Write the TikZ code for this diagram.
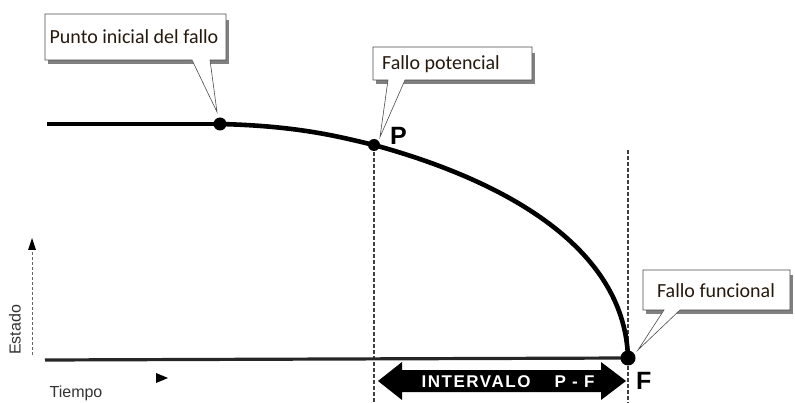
\documentclass[tikz,border=0pt]{standalone}
\usepackage{fontspec}
\setmainfont{Carlito}
\newfontfamily\hv{Liberation Sans}
\usetikzlibrary{arrows.meta}
\begin{document}
\begin{tikzpicture}[x=1pt,y=-1pt,
  curve/.style={line width=4.6pt,black},
  base/.style={line width=3.2pt,black!85},
  guide/.style={line width=2.2pt,dash pattern=on 4pt off 2pt,black!75},
  dotpt/.style={circle,fill=black,inner sep=0pt,minimum size=13pt},
  callout/.style={draw=black!70,line width=0.6pt,fill=white},
  shadow/.style={fill=black!50,draw=none},
  ctext/.style={font=\fontsize{20}{22}\selectfont,text=black!80!brown,inner sep=0pt},
  bigl/.style={font=\hv\bfseries\fontsize{25}{25}\selectfont,inner sep=0pt}]
\useasboundingbox (0,0) rectangle (795,403);
% axes
\draw[line width=0.9pt,dash pattern=on 3pt off 2pt,black!60] (32,355) -- (32,246);
\fill[black] (28,250) -- (32,238) -- (36,250) -- cycle;
\node[rotate=90,font=\hv\fontsize{16}{16}\selectfont,text=black!80] (est) at (15,330) {Estado};
\node[font=\hv\fontsize{16}{16}\selectfont,text=black!80] (tie) at (76,393) {Tiempo};
\fill[black] (156,373) -- (168,378) -- (156,383) -- cycle;
% points
\coordinate (S) at (220,124);
\coordinate (P) at (374,145);
\coordinate (F) at (628,358);
% guides
\draw[guide] (374,140) -- (374,403);
\draw[guide] (628,150) -- (628,403);
% lines
\draw[curve] (47,124) -- (S);
\draw[curve] (S) .. controls (300,126) and (340,137) .. (P)
  .. controls (520,185) and (625,255) .. (F);
\draw[base] (45,360) -- (F);
\node[dotpt] (s) at (S) {};
\node[dotpt,minimum size=12pt] (p) at (P) {};
\node[dotpt,minimum size=15pt] (f) at (F) {};
\node[bigl,anchor=west] (Pl) at (390,136) {P};
\node[bigl,anchor=west] (Fl) at (636,381) {F};
% interval arrow
\fill[black] (378,381) -- (402,362) -- (402,370) -- (601,370) -- (601,362) -- (626,381)
  -- (601,400) -- (601,392) -- (402,392) -- (402,400) -- cycle;
\node[font=\hv\bfseries\fontsize{17}{17}\selectfont,text=white,inner sep=0pt] (iv) at (508,382)
  {\addfontfeature{LetterSpace=9}INTERVALO\hspace{24pt}P - F};
% callout 1
\fill[shadow] (48,20) rectangle (229,64);
\draw[callout] (45,14) -- (226,14) -- (226,60) -- (210,60) -- (217,112) -- (192,60) -- (45,60) -- cycle;
\node[ctext] (c1) at (134,37) {Punto inicial del fallo};
% callout 2
\fill[shadow] (376,53) rectangle (535,84);
\draw[callout] (373,47) -- (532,47) -- (532,80) -- (405,80) -- (380,137) -- (388,80) -- (373,80) -- cycle;
\node[ctext] (c2) at (441,64) {Fallo potencial};
% callout 3
\fill[shadow] (646,275) rectangle (793,314);
\draw[callout] (643,270) -- (790,270) -- (790,310) -- (680,310) -- (638,350) -- (664,310) -- (643,310) -- cycle;
\node[ctext] (c3) at (716,291) {Fallo funcional};
\end{tikzpicture}
\end{document}
